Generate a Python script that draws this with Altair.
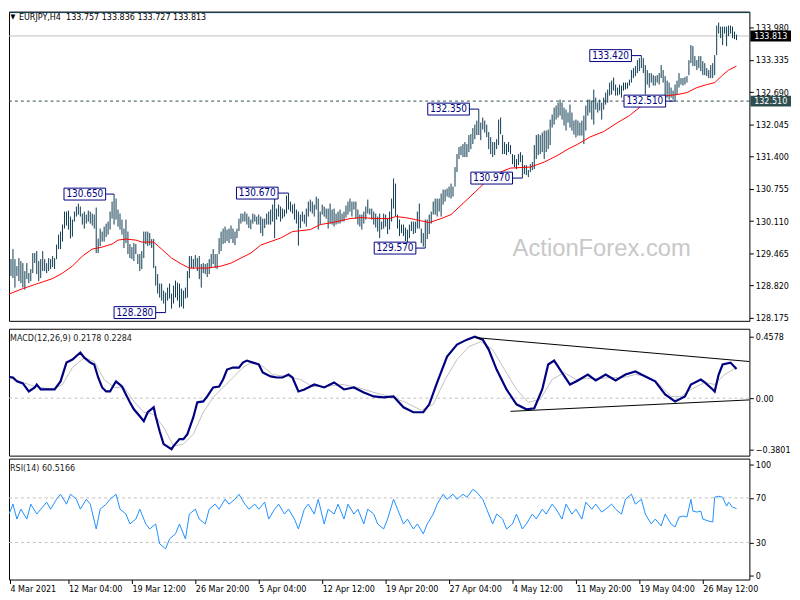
import altair as alt
import pandas as pd

# ---------------- data ----------------
bar_high = [
 129.29,129.27,129.31,129.35,129.55,129.35,129.21,129.37,129.31,129.27,
 129.11,129.27,129.07,129.15,129.47,129.47,129.51,129.31,129.35,129.51,
 129.35,129.27,129.37,129.35,129.41,129.37,129.64,129.84,129.90,130.04,
 130.30,130.30,130.32,130.20,130.14,130.30,130.40,130.46,130.40,130.26,
 130.30,130.24,130.32,130.30,130.26,130.24,130.38,129.76,129.96,129.90,
 130.00,130.06,130.10,130.30,130.50,130.65,130.56,130.34,130.26,130.14,
 129.96,130.14,129.90,129.65,129.59,129.67,129.65,129.45,129.45,129.51,
 129.90,129.90,129.90,129.87,129.75,129.75,129.21,129.05,128.86,128.86,
 128.72,128.68,128.78,128.86,128.66,128.82,128.92,128.88,128.86,128.76,
 128.72,128.78,129.11,129.41,129.41,129.35,129.43,129.37,129.41,129.25,
 129.27,129.25,129.27,129.35,129.45,129.55,129.45,129.45,129.77,129.90,
 129.96,130.00,129.94,129.96,130.02,129.96,129.90,129.96,130.16,130.26,
 130.26,130.30,130.26,130.20,130.14,130.26,130.24,130.20,
 130.24,130.20,130.16,130.16,130.26,130.30,130.34,130.44,130.60,130.36,
 130.44,130.40,130.36,130.34,130.62,130.67,130.50,130.44,130.46,130.34,
 130.30,130.24,130.30,130.24,130.36,130.50,130.54,130.50,130.44,130.60,
 130.56,130.30,130.44,130.40,130.36,130.36,130.46,130.34,130.36,130.26,
 130.30,130.34,130.26,130.30,130.42,130.50,130.56,130.50,130.50,130.50,
 130.34,130.24,130.24,130.30,130.40,130.54,130.36,130.36,130.30,130.26,
 130.20,130.26,130.10,130.26,130.24,130.16,130.30,130.56,130.96,130.86,
 130.24,130.14,130.04,130.04,129.98,129.94,130.04,130.10,130.10,130.10,
 130.30,130.46,129.96,129.87,130.14,130.14,130.24,130.30,130.50,130.56,
 130.56,130.56,130.66,130.74,130.74,130.76,130.80,130.86,130.80,131.19,
 131.45,131.59,131.61,131.65,131.69,131.65,131.83,131.85,131.97,132.04,
 132.12,132.35,132.08,132.18,132.12,132.04,131.89,131.79,131.69,131.69,
 131.75,132.14,
 132.18,131.83,131.69,131.65,131.69,131.63,131.45,131.43,131.35,131.45,
 131.49,131.43,131.23,131.23,131.13,131.25,131.29,131.63,131.83,131.85,
 131.83,131.88,131.92,131.92,131.94,132.14,132.24,132.38,132.42,132.48,
 132.54,132.48,132.38,132.34,132.28,132.44,132.28,132.12,132.14,132.12,
 132.08,132.12,132.22,132.42,132.54,132.54,132.52,132.74,132.58,132.48,
 132.54,132.48,132.58,132.68,132.74,132.88,132.92,132.98,132.84,132.78,
 132.84,132.82,132.88,132.88,132.88,132.94,133.13,133.17,133.21,133.33,
 133.37,133.42,133.37,133.23,133.13,133.07,133.07,133.03,133.01,133.03,
 133.07,133.23,133.13,133.01,132.92,132.88,132.78,132.72,132.84,132.92,
 133.07,132.97,132.97,132.99,133.01,133.33,133.63,133.61,133.41,133.33,
 133.41,133.41,133.31,133.27,133.17,133.13,133.23,133.27,133.43,134.02,
 134.08,134.00,134.00,134.00,134.00,134.02,134.02,134.00,133.90,133.84]
bar_low = [
 129.01,128.85,128.91,129.01,128.97,128.78,129.01,128.91,128.87,128.78,
 128.74,128.95,128.87,128.91,129.07,129.27,129.05,128.91,128.97,129.11,
 129.11,129.07,129.11,129.15,129.19,129.15,129.35,129.55,129.55,129.70,
 129.96,130.02,129.94,129.76,129.80,130.10,130.20,130.24,130.20,130.04,
 129.96,130.06,130.10,130.06,130.02,129.96,129.47,129.47,129.61,129.70,
 129.70,129.79,129.84,129.94,130.16,130.04,130.14,130.00,129.94,129.84,
 129.57,129.67,129.45,129.37,129.35,129.31,129.45,129.25,129.11,129.15,
 129.37,129.65,129.61,129.63,129.57,129.17,128.82,128.66,128.58,128.52,
 128.46,128.28,128.52,128.56,128.36,128.46,128.58,128.52,128.38,128.40,
 128.36,128.56,128.58,128.97,129.17,129.15,129.19,129.11,128.95,128.78,
 129.07,129.05,128.99,129.05,129.17,129.25,129.17,129.15,129.45,129.51,
 129.65,129.67,129.71,129.67,129.75,129.67,129.63,129.77,129.91,130.06,
 130.10,130.10,130.04,129.97,129.95,130.06,130.10,130.04,
 130.04,129.87,129.81,129.97,130.04,130.04,130.04,130.10,129.77,130.14,
 130.20,130.10,130.16,130.20,130.26,130.34,130.30,130.26,130.14,130.06,
 129.62,129.97,130.10,130.06,130.00,130.20,130.30,130.26,130.20,130.34,
 129.94,130.04,130.24,130.20,130.16,129.96,130.06,130.04,130.00,130.04,
 130.06,130.06,130.10,130.10,130.18,130.24,130.30,130.20,130.34,130.16,
 130.04,130.00,129.94,130.06,130.14,130.26,130.24,130.14,130.04,129.98,
 129.90,129.77,129.94,129.96,130.00,129.85,129.94,130.10,130.36,130.20,
 129.96,129.81,129.87,129.81,129.71,129.61,129.77,129.91,129.85,129.87,
 129.96,129.96,129.67,129.60,129.57,129.75,129.85,130.06,130.24,130.24,
 130.20,130.30,130.20,130.44,130.50,130.60,130.58,130.56,130.60,130.80,
 131.09,131.35,131.43,131.39,131.39,131.39,131.49,131.55,131.65,131.75,
 131.83,131.83,131.73,131.94,131.88,131.79,131.55,131.45,131.39,131.43,
 131.55,131.63,
 131.85,131.45,131.45,131.43,131.49,131.45,131.25,131.19,131.15,131.23,
 131.29,130.97,131.05,131.03,130.99,131.09,131.13,131.15,131.35,131.43,
 131.45,131.49,131.35,131.49,131.55,131.63,131.98,132.04,132.14,132.18,
 132.22,132.14,132.02,131.92,132.08,131.98,131.92,131.84,131.78,131.82,
 131.82,131.82,131.65,131.92,132.22,132.28,132.14,132.04,132.34,132.28,
 132.32,132.14,132.34,132.44,132.48,132.62,132.64,132.72,132.62,132.62,
 132.64,132.58,132.72,132.74,132.76,132.82,132.88,132.97,133.01,133.07,
 133.11,133.17,133.07,132.64,132.84,132.78,132.88,132.82,132.82,132.88,
 132.84,132.97,132.88,132.54,132.58,132.54,132.58,132.54,132.51,132.64,
 132.78,132.84,132.82,132.84,132.88,133.03,133.27,133.21,133.21,133.13,
 133.17,133.11,133.03,133.03,133.01,132.97,132.97,132.97,133.03,133.43,
 133.86,133.77,133.63,133.86,133.61,133.81,133.86,133.77,133.75,133.73]

ma_idx = [0,9,15,24,29,34,39,44,49,54,57,61,66,69,75,79,84,89,93,102,
          109,114,119,124,129,139,145,154,159,165,174,180,187,194,197,202,207,214,220,225,
          232,239,244,250,255,265,272,279,284,289,295,302,309,315,320,327,334,339,344,349,
          354,358,362,365,369]
ma_val = [128.62,128.76,128.84,128.96,129.07,129.21,129.41,129.55,129.59,129.65,
          129.73,129.75,129.73,129.69,129.69,129.55,129.37,129.25,129.17,129.17,
          129.21,129.27,129.37,129.47,129.63,129.77,129.90,129.94,130.04,130.08,
          130.16,130.18,130.16,130.16,130.20,130.18,130.14,130.08,130.16,130.24,
          130.50,130.76,130.96,131.09,131.17,131.19,131.29,131.43,131.55,131.65,
          131.79,131.90,132.08,132.22,132.38,132.54,132.62,132.64,132.68,132.78,
          132.84,132.88,133.03,133.13,133.21]

macd_idx = [0,4,6,9,12,15,16,18,20,25,28,31,34,38,40,43,45,47,49,51,
            53,55,56,59,61,63,65,68,70,72,75,76,78,80,84,85,88,90,92,95,
            97,100,102,105,108,110,112,115,118,120,122,125,128,130,134,137,140,143,145,148,
            151,156,161,166,171,176,181,186,191,196,201,206,211,214,218,223,228,233,237,241,
            244,248,253,258,263,267,271,274,277,281,285,289,294,298,303,308,313,318,323,328,
            333,338,343,346,351,353,357,358,360,362,366,369]
macd_val = [0.162,0.154,0.125,0.110,0.050,0.080,0.102,0.065,0.065,0.065,
            0.125,0.265,0.288,0.340,0.302,0.265,0.251,0.154,0.080,0.050,
            0.050,0.102,0.125,0.087,0.028,-0.031,-0.083,-0.135,-0.172,-0.105,
            -0.068,-0.135,-0.246,-0.342,-0.3801,-0.357,-0.305,-0.305,-0.268,-0.142,
            -0.031,-0.024,0.013,0.080,0.087,0.139,0.213,0.228,0.228,0.265,
            0.280,0.265,0.251,0.191,0.162,0.154,0.154,0.176,0.154,0.050,
            0.065,0.102,0.080,0.117,0.065,0.080,0.043,0.013,0.006,0.013,
            -0.068,-0.105,-0.105,-0.046,0.117,0.310,0.399,0.436,0.4578,0.436,
            0.362,0.213,0.065,-0.046,-0.083,-0.075,0.065,0.251,0.280,0.191,
            0.102,0.132,0.176,0.132,0.176,0.132,0.176,0.199,0.162,0.125,
            0.028,-0.024,0.013,0.102,0.139,0.117,0.065,0.050,0.176,0.251,
            0.265,0.2178]
sig_idx = [0,9,15,24,29,34,40,45,50,55,60,65,70,75,80,85,90,95,100,105,
           110,115,120,125,130,135,142,149,155,162,170,178,186,194,202,210,216,222,228,234,
           240,246,252,258,264,270,276,282,288,294,300,306,312,318,324,330,336,341,346,353,
           358,363,369]
sig_val = [0.162,0.117,0.087,0.065,0.102,0.228,0.302,0.273,0.139,0.080,
           0.080,-0.024,-0.105,-0.120,-0.216,-0.357,-0.342,-0.268,-0.105,0.006,
           0.080,0.154,0.228,0.273,0.236,0.176,0.162,0.139,0.087,0.087,
           0.102,0.080,0.043,0.013,-0.031,-0.090,-0.046,0.139,0.288,0.384,
           0.421,0.362,0.213,0.065,-0.031,-0.009,0.139,0.191,0.139,0.147,
           0.147,0.154,0.154,0.176,0.162,0.102,0.013,0.013,0.065,0.117,
           0.102,0.176,0.2284]

rsi_idx = [0,2,4,6,8,11,13,16,18,21,23,26,28,31,33,36,38,41,43,46,
           48,51,53,56,58,61,63,66,68,71,73,76,78,81,83,86,88,91,93,96,
           98,101,103,106,108,111,113,116,118,121,123,126,128,131,133,136,138,141,143,146,
           148,151,153,156,158,161,163,166,168,171,173,176,178,181,183,186,188,191,193,196,
           198,201,203,206,208,211,213,216,218,221,223,226,228,231,233,236,238,241,243,246,
           248,251,253,256,258,261,263,266,268,271,273,276,278,281,283,286,288,291,293,296,
           298,301,303,306,308,311,313,316,318,321,323,326,328,331,333,336,338,340,342,344,
           346,347,349,351,352,355,357,358,360,362,364,365,367,369]
rsi_val = [59.9,55.5,64.4,51.0,59.9,51.0,64.4,55.5,59.9,66.2,
           59.9,68.8,73.3,64.4,73.3,68.8,59.9,68.8,64.4,42.1,
           59.9,64.4,68.8,73.3,59.9,55.5,46.6,51.0,59.9,46.6,
           42.1,46.6,28.8,24.3,33.2,37.7,46.6,33.2,55.5,59.9,
           51.0,46.6,59.9,64.4,59.9,68.8,64.4,68.8,73.3,64.4,
           59.9,64.4,59.9,66.2,51.0,59.9,64.4,55.5,59.9,51.0,
           42.1,59.9,64.4,55.5,68.8,46.6,59.9,55.5,64.4,51.0,
           64.4,55.5,59.9,46.6,59.9,55.5,46.6,42.1,51.0,68.8,
           59.9,46.6,51.0,42.1,46.6,37.7,46.6,55.5,64.4,73.3,
           68.8,73.3,68.8,73.3,70.6,77.7,75.1,68.8,59.9,46.6,
           55.5,51.0,42.1,46.6,55.5,42.1,46.6,55.5,51.0,59.9,
           55.5,64.4,59.9,51.0,64.4,55.5,59.9,51.0,66.2,59.9,
           64.4,57.3,59.9,64.4,59.9,55.5,68.8,73.3,64.4,68.8,
           55.5,46.6,51.0,44.8,55.5,46.6,43.9,52.8,53.7,52.8,
           68.8,58.1,57.3,58.1,51.0,49.2,48.3,70.6,71.5,70.6,
           62.6,66.2,61.7,60.5]

# swing labels
ann_label = ["130.650", "128.280", "130.670", "129.570", "132.350", "130.970", "133.420", "132.510"]
ann_price = [130.650, 128.280, 130.670, 129.570, 132.350, 130.970, 133.420, 132.510]
ann_box_idx = [40.25, 65.5, 127.25, 196.75, 223.75, 245.5, 305.5, 322.75]
ann_box_right = [51, 76, 137.5, 207, 234, 256, 316, 333]
ann_bar_idx = [55, 81, 143, 212, 239, 261, 321, 338]

# levels
fe_level = 134.28
last_price = 133.813
support_level = 132.510

# MACD trend lines (bar index, value)
trend_x0 = [237.5, 255]
trend_y0 = [0.451, -0.098]
trend_x1 = [375.5, 375.5]
trend_y1 = [0.273, -0.013]

# axes
price_ticks = [128.175, 128.820, 129.465, 130.110, 130.755, 131.400, 132.045, 132.690, 133.335, 133.980]
macd_ticks = [-0.3801, 0.0, 0.4578]
rsi_ticks = [0, 30, 70, 100]
rsi_levels = [30, 70]
x_tick_idx = [2.5, 32, 64, 96, 128, 160, 192, 224, 256, 288, 320, 352]
x_tick_lbl = ["4 Mar 2021", "12 Mar 04:00", "19 Mar 12:00", "26 Mar 20:00", "5 Apr 04:00",
              "12 Apr 12:00", "19 Apr 20:00", "27 Apr 04:00", "4 May 12:00", "11 May 20:00",
              "19 May 04:00", "26 May 12:00"]

title_main = "EURJPY,H4\u00a0\u00a0133.757 133.836 133.727 133.813"
title_macd = "MACD(12,26,9) 0.2178 0.2284"
title_rsi = "RSI(14) 60.5166"

# ---------------- tables ----------------
bars = pd.DataFrame({"i": list(range(len(bar_high))), "high": bar_high, "low": bar_low})
ma = pd.DataFrame({"i": ma_idx, "v": ma_val})
macd = pd.DataFrame({"i": macd_idx, "v": macd_val})
sig = pd.DataFrame({"i": sig_idx, "v": sig_val})
rsi = pd.DataFrame({"i": rsi_idx, "v": rsi_val})
ann = pd.DataFrame({"lbl": ann_label, "p": ann_price, "bx": ann_box_idx,
                    "br": ann_box_right, "bi": ann_bar_idx})
trend = pd.DataFrame({"x0": trend_x0, "y0": trend_y0, "x1": trend_x1, "y1": trend_y1})
tags = pd.DataFrame({"p": [last_price, support_level], "lbl": ["133.813", "132.510"],
                     "bg": ["#000000", "#2f4f4f"]})
one = pd.DataFrame({"d": [0]})

# ---------------- style ----------------
W = 747
H_MAIN, H_MACD, H_RSI = 312, 128, 122
FONT = "DejaVu Sans Condensed, DejaVu Sans, sans-serif"
BAR = "#0d3b50"
NAVY = "#000080"

xs = alt.Scale(domain=[2.0, 375.5], nice=False, zero=False)
ys_main = alt.Scale(domain=[128.115, 134.30], nice=False, zero=False)
ys_macd = alt.Scale(domain=[-0.428, 0.517], nice=False, zero=False)
ys_rsi = alt.Scale(domain=[-3.3, 105.3], nice=False, zero=False)


def yaxis(values, fmt=None, expr=None):
    kw = dict(orient="right", values=values, title=None, domain=False, grid=False,
              tickSize=4, tickColor="black", labelFont=FONT, labelFontSize=9,
              labelColor="black", labelPadding=2, labelFlush=False, labelOverlap=False)
    if fmt:
        kw["format"] = fmt
    if expr:
        kw["labelExpr"] = expr
    return alt.Axis(**kw)


AX_MAIN = yaxis(price_ticks, fmt=".3f")
AX_MACD = yaxis(macd_ticks, expr="datum.value == 0 ? '0.00' : format(datum.value, '.4f')")
AX_RSI = yaxis(rsi_ticks, fmt="d")

X = lambda f: alt.X(f, type="quantitative", scale=xs, axis=None)
YM = lambda f: alt.Y(f, type="quantitative", scale=ys_main, axis=AX_MAIN)
YD = lambda f: alt.Y(f, type="quantitative", scale=ys_macd, axis=AX_MACD)
YR = lambda f: alt.Y(f, type="quantitative", scale=ys_rsi, axis=AX_RSI)

# ---------------- main panel ----------------
watermark = alt.Chart(one).mark_text(text="ActionForex.com", font="Liberation Sans", fontSize=24,
                                     color="#c8c8c8", align="center", baseline="middle").encode(
    x=alt.value(598), y=alt.value(240))
fe_line = alt.Chart(pd.DataFrame({"p": [fe_level]})).mark_rule(color=BAR, strokeWidth=1).encode(y=YM("p"))
last_line = alt.Chart(pd.DataFrame({"p": [last_price]})).mark_rule(color="#c0c0c0", strokeWidth=1).encode(
    y=YM("p"))
sup_line = alt.Chart(pd.DataFrame({"p": [support_level]})).mark_rule(
    color="#2f4f4f", strokeWidth=1, strokeDash=[3, 3]).encode(y=YM("p"))
bar_layer = alt.Chart(bars).mark_rule(color=BAR, strokeWidth=1, clip=True).encode(
    x=X("i"), y=YM("high"), y2="low:Q")
ma_layer = alt.Chart(ma).mark_line(color="#ff0000", strokeWidth=1, clip=True).encode(x=X("i"), y=YM("v"))
conn = alt.Chart(ann).mark_rule(color=NAVY, strokeWidth=1).encode(x=X("br"), x2="bi:Q", y=YM("p"))
boxes = alt.Chart(ann).mark_tick(orient="horizontal", size=42, thickness=12, fill="white",
                                 stroke=NAVY, strokeWidth=1, opacity=1).encode(x=X("bx"), y=YM("p"))
box_txt = alt.Chart(ann).mark_text(font=FONT, fontSize=10, color=NAVY, align="center",
                                   baseline="middle").encode(x=X("bx"), y=YM("p"), text="lbl:N")
tag_bg = alt.Chart(tags).mark_tick(orient="horizontal", size=41, thickness=11, opacity=1).encode(
    x=alt.value(W + 21.5), y=YM("p"), color=alt.Color("bg:N", scale=None))
tag_txt = alt.Chart(tags).mark_text(font=FONT, fontSize=9, color="white", align="center",
                                    baseline="middle").encode(x=alt.value(W + 21.5), y=YM("p"), text="lbl:N")
tri = alt.Chart(one).mark_text(text="\u25bc", font=FONT, fontSize=7, color="black",
                               align="center", baseline="middle").encode(x=alt.value(4), y=alt.value(5))
ttl_main = alt.Chart(one).mark_text(text=title_main, font=FONT, fontSize=9, color="black",
                                    align="left", baseline="middle").encode(x=alt.value(10), y=alt.value(5))

main = alt.layer(watermark, fe_line, last_line, sup_line, bar_layer, ma_layer, conn, boxes,
                 box_txt, tag_bg, tag_txt, tri, ttl_main).properties(width=W, height=H_MAIN)

# ---------------- MACD panel ----------------
zero_line = alt.Chart(pd.DataFrame({"v": [0.0]})).mark_rule(color="#c0c0c0", strokeDash=[3, 3]).encode(
    y=YD("v"))
sig_layer = alt.Chart(sig).mark_line(color="#c0c0c0", strokeWidth=1, clip=True).encode(x=X("i"), y=YD("v"))
macd_layer = alt.Chart(macd).mark_line(color=NAVY, strokeWidth=2.2, clip=True).encode(x=X("i"), y=YD("v"))
trend_layer = alt.Chart(trend).mark_rule(color="black", strokeWidth=1, clip=True).encode(
    x=X("x0"), x2="x1:Q", y=YD("y0"), y2="y1:Q")
ttl_macd = alt.Chart(one).mark_text(text=title_macd, font=FONT, fontSize=9, color="#202020",
                                    align="left", baseline="middle").encode(x=alt.value(1), y=alt.value(9))
macd_panel = alt.layer(zero_line, sig_layer, macd_layer, trend_layer, ttl_macd).properties(
    width=W, height=H_MACD)

# ---------------- RSI panel ----------------
lbl_arr = "[" + ",".join("'%s'" % s for s in x_tick_lbl) + "]"
idx_arr = "[" + ",".join(str(v) for v in x_tick_idx) + "]"
xaxis = alt.Axis(values=x_tick_idx, labelExpr=lbl_arr + "[indexof(" + idx_arr + ", datum.value)]",
                 title=None, domain=False, grid=False, tickSize=4, tickColor="black",
                 labelFont=FONT, labelFontSize=9, labelColor="black", labelAlign="left",
                 labelBaseline="top", labelPadding=1, labelFlush=False, labelOverlap=False)
rsi_lv = alt.Chart(pd.DataFrame({"v": rsi_levels})).mark_rule(color="#c0c0c0", strokeDash=[3, 3]).encode(
    y=YR("v"))
rsi_layer = alt.Chart(rsi).mark_line(color="#1e90ff", strokeWidth=1, clip=True).encode(
    x=alt.X("i:Q", scale=xs, axis=xaxis), y=YR("v"))
ttl_rsi = alt.Chart(one).mark_text(text=title_rsi, font=FONT, fontSize=9, color="#202020",
                                   align="left", baseline="middle").encode(x=alt.value(1), y=alt.value(9))
rsi_panel = alt.layer(rsi_lv, rsi_layer, ttl_rsi).properties(width=W, height=H_RSI)

lower = alt.vconcat(macd_panel, rsi_panel, spacing=1).resolve_scale(x="independent", y="independent")
chart = alt.vconcat(main, lower, spacing=4).resolve_scale(
    x="independent", y="independent").properties(
    padding={"left": 0, "top": 0, "right": 0, "bottom": 0}, background="white").configure_view(
    stroke="black", strokeWidth=1)

chart.save("out.html", embed_options={"renderer": "svg", "actions": False})
